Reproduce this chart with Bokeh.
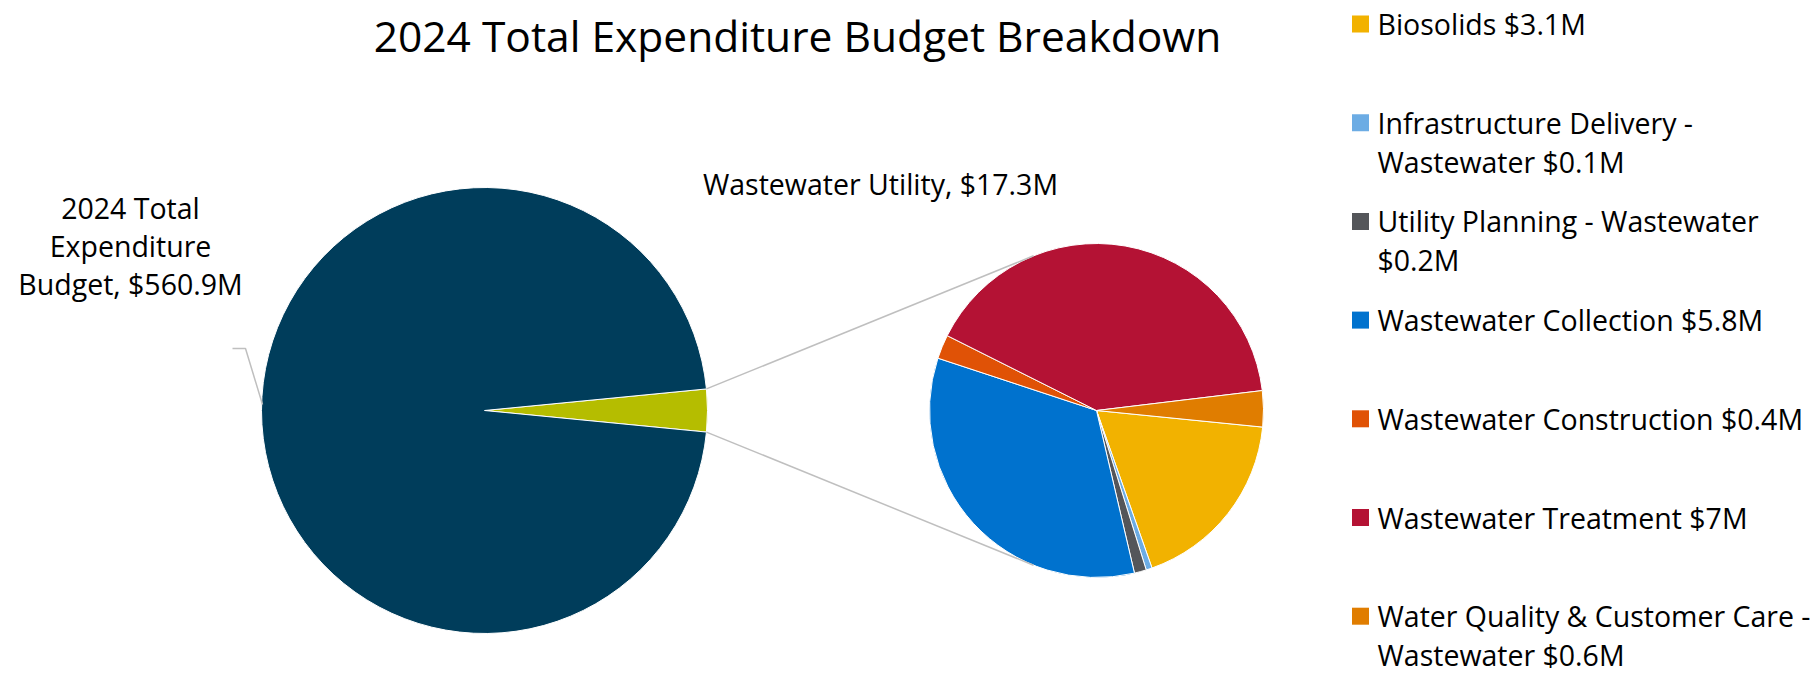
import numpy as np
from bokeh.plotting import figure
from bokeh.models import Range1d
from bokeh.embed import file_html
from bokeh.resources import INLINE
from bokeh.core.properties import value

# ---------------- data ----------------
title_text = "2024 Total Expenditure Budget Breakdown"

main_names = ["Wastewater Utility", "Other Expenditure"]
main_values = [17.3, 543.6]          # total 560.9
main_label_lines = ["2024 Total", "Expenditure", "Budget, $560.9M"]
sub_label = "Wastewater Utility, $17.3M"

ww_names = ["Biosolids",
            "Infrastructure Delivery - Wastewater",
            "Utility Planning - Wastewater",
            "Wastewater Collection",
            "Wastewater Construction",
            "Wastewater Treatment",
            "Water Quality & Customer Care - Wastewater"]
ww_values = [3.1, 0.1, 0.2, 5.8, 0.4, 7.0, 0.6]
legend_lines = [["Biosolids $3.1M"],
                ["Infrastructure Delivery -", "Wastewater $0.1M"],
                ["Utility Planning - Wastewater", "$0.2M"],
                ["Wastewater Collection $5.8M"],
                ["Wastewater Construction $0.4M"],
                ["Wastewater Treatment $7M"],
                ["Water Quality & Customer Care -", "Wastewater $0.6M"]]

# ---------------- style ----------------
main_colors = ["#B5BD00", "#003D5B"]
ww_colors = ["#F2B200", "#6CACE4", "#54565A", "#0072CE", "#E05206", "#B41234", "#E07D00"]
FONT = value("Open Sans")
FW, FH = 1815, 674

def Y(yy):  # picture row (from top) -> data y (y up)
    return FH - yy

p = figure(width=FW, height=FH, output_backend="svg", toolbar_location=None,
           x_range=Range1d(0, FW), y_range=Range1d(0, FH), min_border=0)
p.axis.visible = False
p.grid.visible = False
p.outline_line_color = None
p.background_fill_color = "white"
p.border_fill_color = "white"

# ---------------- main pie ----------------
mcx, mcy, mr = 484, Y(410), 223
mtot = sum(main_values)
mang = np.cumsum([0] + [2 * np.pi * v / mtot for v in main_values])
m0 = -np.pi * main_values[0] / mtot
p.wedge(x=mcx, y=mcy, radius=mr, start_angle=list(m0 + mang[:-1]), end_angle=list(m0 + mang[1:]),
        fill_color=main_colors, line_color="white", line_width=1)

# ---------------- secondary pie ----------------
scx, scy, sr = 1096, Y(410), 167
stot = sum(ww_values)
sang = np.cumsum([0] + [2 * np.pi * v / stot for v in ww_values])
s0 = np.radians(-5.7)
p.wedge(x=scx, y=scy, radius=sr, start_angle=list(s0 - sang[:-1]), end_angle=list(s0 - sang[1:]),
        direction="clock", fill_color=ww_colors, line_color="white", line_width=1)

# ---------------- connector lines (tangents) ----------------
for sgn in (1, -1):
    a = sgn * (-m0)
    px, py = mcx + mr * np.cos(a), mcy + mr * np.sin(a)
    dx, dy = px - scx, py - scy
    d = np.hypot(dx, dy)
    phi = np.arctan2(dy, dx)
    t = phi - sgn * np.arccos(sr / d)
    tx, ty = scx + sr * np.cos(t), scy + sr * np.sin(t)
    p.line([px, tx], [py, ty], line_color="#BFBFBF", line_width=1.5)

# leader line for main label
p.line([232, 245, 262], [Y(348), Y(348), Y(404)], line_color="#BFBFBF", line_width=1.5)

# ---------------- texts ----------------
p.text(x=[797], y=[Y(35)], text=[title_text], text_font=FONT, text_font_size="42.5px",
       text_align="center", text_baseline="alphabetic", text_color="black")

p.text(x=[130] * len(main_label_lines), y=[Y(207 + 38 * i) for i in range(len(main_label_lines))],
       text=main_label_lines, text_font=FONT, text_font_size="28.5px",
       text_align="center", text_baseline="alphabetic", text_color="black")

p.text(x=[880], y=[Y(183)], text=[sub_label], text_font=FONT, text_font_size="28.5px",
       text_align="center", text_baseline="alphabetic", text_color="black")

# ---------------- legend ----------------
lx = 1377
lxs, lys, ltexts = [], [], []
sq_y = []
for i, lines in enumerate(legend_lines):
    base = 23.5 + i * 98.7
    sq_y.append(Y(base))
    for j, ln in enumerate(lines):
        lxs.append(lx)
        lys.append(Y(base + 39 * j))
        ltexts.append(ln)
p.rect(x=[1360] * len(ww_names), y=sq_y, width=17, height=17, fill_color=ww_colors, line_color=None)
p.text(x=lxs, y=lys, text=ltexts, text_font=FONT, text_font_size="28.5px",
       text_align="left", text_baseline="alphabetic", text_color="black")

open("out.html", "w").write(file_html(p, INLINE))
